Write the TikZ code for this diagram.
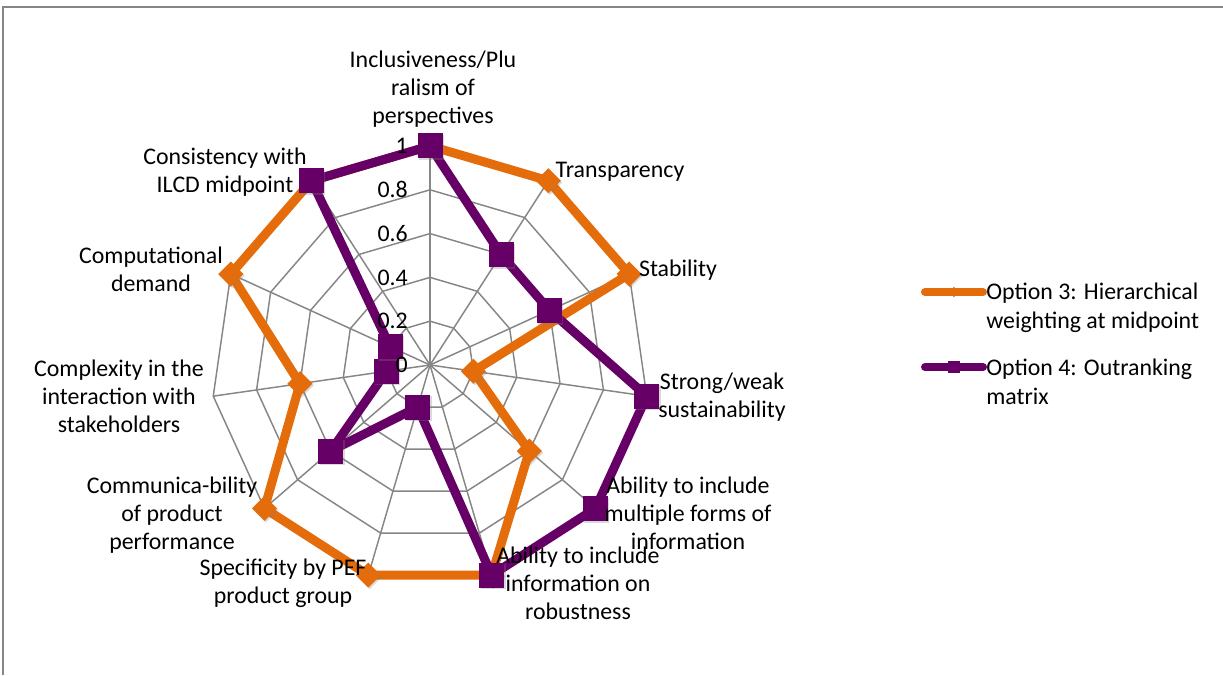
\documentclass[tikz,border=0pt]{standalone}
\usepackage{fontspec}
\setmainfont{Carlito}
\usetikzlibrary{shapes.geometric,shadows}

\definecolor{optorange}{RGB}{228,108,10}
\definecolor{optpurple}{RGB}{102,0,102}
\definecolor{gridgray}{RGB}{134,134,134}

\tikzset{
  gridline/.style={gridgray, line width=1.1pt},
  serieline/.style={line width=6.75pt, line join=round},
  dmmark/.style={diamond, fill=optorange, minimum size=19pt, inner sep=0pt,
    drop shadow={shadow xshift=1pt, shadow yshift=-1.2pt, opacity=0.3}},
  sqmark/.style={rectangle, fill=optpurple, minimum size=18.75pt, inner sep=0pt,
    drop shadow={shadow xshift=1pt, shadow yshift=-1.2pt, opacity=0.3}},
  catlabel/.style={align=center, inner sep=0pt, font=\fontsize{17.9}{21}\selectfont},
  ticklabel/.style={anchor=east, inner sep=0pt, font=\fontsize{17.9}{21}\selectfont},
  legendtext/.style={align=left, anchor=west, inner sep=0pt, font=\fontsize{17.9}{22}\selectfont}
}

\begin{document}
\begin{tikzpicture}[x=0.75pt, y=0.75pt]
    \useasboundingbox (0,0) rectangle (1223,675);

    % Outer frame of the chart area
    \draw[gridgray, line width=1.1pt] (3,0) -- (3,668) -- (1223,668);

    \begin{scope}[shift={(430,310)}]
      % Web: rings at 0.2 steps and the eleven spokes
      \foreach \r in {0.2,0.4,0.6,0.8,1}
        \draw[gridline] (90:{219*\r}) \foreach \k in {1,...,10} { -- ({90-\k*360/11}:{219*\r}) } -- cycle;
      \foreach \k in {0,...,10}
        \draw[gridline] (0,0) -- ({90-\k*360/11}:219);

      % Data points of both options
      \foreach \v [count=\i from 0] in {1,1,1,0.2,0.6,1,1,1,0.6,1,1}
        \coordinate (o\i) at ({90-\i*360/11}:{219*\v});
      \foreach \v [count=\i from 0] in {1,0.6,0.6,1,1,1,0.2,0.6,0.2,0.2,1}
        \coordinate (p\i) at ({90-\i*360/11}:{219*\v});
    \end{scope}

    % Option 3 (orange)
    \draw[serieline, optorange] (o0) -- (o1) -- (o2) -- (o3) -- (o4) -- (o5) -- (o6)
      -- (o7) -- (o8) -- (o9) -- (o10) -- cycle;
    \foreach \i in {0,...,10}
      \node[dmmark] (om\i) at (o\i) {};

    % Option 4 (purple)
    \draw[serieline, optpurple] (p0) -- (p1) -- (p2) -- (p3) -- (p4) -- (p5) -- (p6)
      -- (p7) -- (p8) -- (p9) -- (p10) -- cycle;
    \foreach \i in {0,...,10}
      \node[sqmark] (pm\i) at (p\i) {};

    % Scale labels
    \node[ticklabel] (t0) at (408,310) {0};
    \node[ticklabel] (t2) at (408,353.8) {0.2};
    \node[ticklabel] (t4) at (408,397.6) {0.4};
    \node[ticklabel] (t6) at (408,441.4) {0.6};
    \node[ticklabel] (t8) at (408,485.2) {0.8};
    \node[ticklabel] (t10) at (408,529) {1};

    % Category labels
    \node[catlabel] (incl) at (433,585.5) {Inclusiveness/Plu\\ralism of\\perspectives};
    \node[catlabel] (transp) at (620,503) {Transparency};
    \node[catlabel] (stab) at (678,405) {Stability};
    \node[catlabel] (strong) at (722,278) {Strong/weak\\sustainability};
    \node[catlabel] (multi) at (688,162) {Ability to include\\multiple forms of\\information};
    \node[catlabel] (robust) at (578,92) {Ability to include\\information on\\robustness};
    \node[catlabel] (spec) at (283,91.5) {Specificity by PEF\\product group};
    \node[catlabel] (commun) at (172,160) {Communica-bility\\of product\\performance};
    \node[catlabel] (complex) at (119,279) {Complexity in the\\interaction with\\stakeholders};
    \node[catlabel] (comput) at (151,406) {Computational\\demand};
    \node[catlabel] (consist) at (225,502.5) {Consistency with\\ILCD midpoint};

    % Legend
    \coordinate (l3a) at (925,383);
    \coordinate (l3b) at (983,383);
    \draw[optorange, line width=6pt, line cap=round] (l3a) -- (l3b);
    \node[diamond, fill=optorange, minimum size=8pt, inner sep=0pt] (l3m) at (954,383) {};
    \node[legendtext] (leg3) at (986,367.5) {Option 3: Hierarchical\\weighting at midpoint};

    \coordinate (l4a) at (925,308);
    \coordinate (l4b) at (983,308);
    \draw[optpurple, line width=6pt, line cap=round] (l4a) -- (l4b);
    \node[rectangle, fill=optpurple, minimum size=9pt, inner sep=0pt] (l4m) at (954,308) {};
    \node[legendtext] (leg4) at (986,293.5) {Option 4: Outranking\\matrix};
\end{tikzpicture}
\end{document}
